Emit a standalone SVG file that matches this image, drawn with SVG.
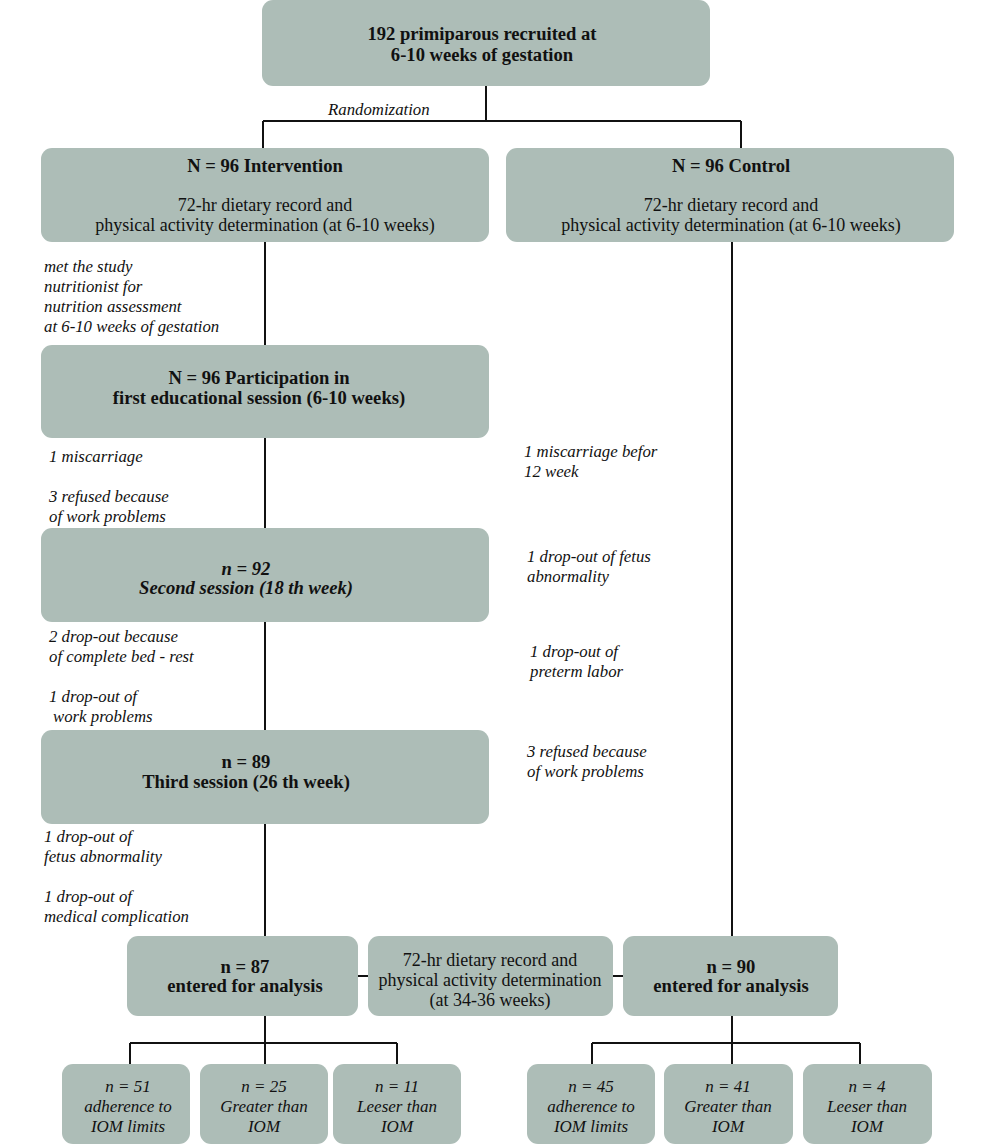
<svg xmlns="http://www.w3.org/2000/svg" width="1000" height="1145" viewBox="0 0 1000 1145">
<style>
.box{fill:#adbdb7;}
.t{font-family:"Liberation Serif",serif;font-size:18px;fill:#111;text-anchor:middle;}
.b{font-weight:bold;font-size:18.6px;}
.i{font-style:italic;}
.n{font-family:"Liberation Serif",serif;font-size:16.8px;font-style:italic;fill:#111;}
.s{font-size:17px;}
.ln{stroke:#111;stroke-width:2;fill:none;}
</style>
<rect width="1000" height="1145" fill="#fff"/>
<g id="connectors">
<path class="ln" d="M486 86V121M263 121H741M263 121V148M741 121V148"/>
<path class="ln" d="M265 242V345M265 438V528M265 622V730M265 824V936M732 242V936"/>
<path class="ln" d="M358 976H368M613 976H623"/>
<path class="ln" d="M265 1016V1043M130 1043H397M130 1043V1064M265 1043V1064M397 1043V1064"/>
<path class="ln" d="M732 1016V1043M592 1043H860M592 1043V1064M732 1043V1064M860 1043V1064"/>
</g>
<g id="top"><rect class="box" x="262" y="0" width="448" height="86" rx="11"/>
<text class="t b" x="482" y="40">192 primiparous recruited at</text>
<text class="t b" x="482" y="61">6-10 weeks of gestation</text></g>
<text class="n" x="328" y="115">Randomization</text>
<g id="intervention"><rect class="box" x="41" y="148" width="448" height="94" rx="11"/>
<text class="t b" x="265" y="172">N = 96 Intervention</text>
<text class="t" x="265" y="211">72-hr dietary record and</text>
<text class="t" x="265" y="231">physical activity determination (at 6-10 weeks)</text></g>
<g id="control"><rect class="box" x="506" y="148" width="448" height="94" rx="11"/>
<text class="t b" x="731" y="172">N = 96 Control</text>
<text class="t" x="731" y="211">72-hr dietary record and</text>
<text class="t" x="731" y="231">physical activity determination (at 6-10 weeks)</text></g>
<g id="notes-left">
<text class="n" x="44" y="272">met the study</text>
<text class="n" x="44" y="292">nutritionist for</text>
<text class="n" x="44" y="312">nutrition assessment</text>
<text class="n" x="44" y="332">at 6-10 weeks of gestation</text>
<text class="n" x="49" y="462">1 miscarriage</text>
<text class="n" x="49" y="502">3 refused because</text>
<text class="n" x="49" y="522">of work problems</text>
<text class="n" x="49" y="642">2 drop-out because</text>
<text class="n" x="49" y="662">of complete bed - rest</text>
<text class="n" x="49" y="702">1 drop-out of</text>
<text class="n" x="53" y="722">work problems</text>
<text class="n" x="44" y="842">1 drop-out of</text>
<text class="n" x="44" y="862">fetus abnormality</text>
<text class="n" x="44" y="902">1 drop-out of</text>
<text class="n" x="44" y="922">medical complication</text>
</g>
<g id="notes-right">
<text class="n" x="524" y="457">1 miscarriage befor</text>
<text class="n" x="524" y="477">12 week</text>
<text class="n" x="527" y="562">1 drop-out of fetus</text>
<text class="n" x="527" y="582">abnormality</text>
<text class="n" x="530" y="657">1 drop-out of</text>
<text class="n" x="530" y="677">preterm labor</text>
<text class="n" x="527" y="757">3 refused because</text>
<text class="n" x="527" y="777">of work problems</text>
</g>
<g id="session1"><rect class="box" x="41" y="345" width="448" height="93" rx="11"/>
<text class="t b" x="259" y="384">N = 96 Participation in</text>
<text class="t b" x="259" y="404">first educational session (6-10 weeks)</text></g>
<g id="session2"><rect class="box" x="41" y="528" width="448" height="94" rx="11"/>
<text class="t b i" x="246" y="575">n = 92</text>
<text class="t b i" x="246" y="594">Second session (18 th week)</text></g>
<g id="session3"><rect class="box" x="41" y="730" width="448" height="94" rx="11"/>
<text class="t b" x="246" y="768">n = 89</text>
<text class="t b" x="246" y="788">Third session (26 th week)</text></g>
<g id="analysis-int"><rect class="box" x="127" y="936" width="231" height="80" rx="11"/>
<text class="t b" x="245" y="973">n = 87</text>
<text class="t b" x="245" y="992">entered for analysis</text></g>
<g id="followup"><rect class="box" x="368" y="936" width="245" height="80" rx="11"/>
<text class="t" x="490" y="966">72-hr dietary record and</text>
<text class="t" x="490" y="986">physical activity determination</text>
<text class="t" x="490" y="1006">(at 34-36 weeks)</text></g>
<g id="analysis-ctl"><rect class="box" x="623" y="936" width="215" height="80" rx="11"/>
<text class="t b" x="731" y="973">n = 90</text>
<text class="t b" x="731" y="992">entered for analysis</text></g>
<g id="i-adh"><rect class="box" x="62" y="1064" width="128" height="80" rx="11"/>
<text class="t i s" x="128" y="1092">n = 51</text><text class="t i s" x="128" y="1112">adherence to</text><text class="t i s" x="128" y="1132">IOM limits</text></g>
<g id="i-gt"><rect class="box" x="200" y="1064" width="128" height="80" rx="11"/>
<text class="t i s" x="264" y="1092">n = 25</text><text class="t i s" x="264" y="1112">Greater than</text><text class="t i s" x="264" y="1132">IOM</text></g>
<g id="i-lt"><rect class="box" x="333" y="1064" width="128" height="80" rx="11"/>
<text class="t i s" x="397" y="1092">n =  11</text><text class="t i s" x="397" y="1112">Leeser than</text><text class="t i s" x="397" y="1132">IOM</text></g>
<g id="c-adh"><rect class="box" x="527" y="1064" width="128" height="80" rx="11"/>
<text class="t i s" x="591" y="1092">n =  45</text><text class="t i s" x="591" y="1112">adherence to</text><text class="t i s" x="591" y="1132">IOM limits</text></g>
<g id="c-gt"><rect class="box" x="664" y="1064" width="129" height="80" rx="11"/>
<text class="t i s" x="728" y="1092">n =  41</text><text class="t i s" x="728" y="1112">Greater than</text><text class="t i s" x="728" y="1132">IOM</text></g>
<g id="c-lt"><rect class="box" x="803" y="1064" width="129" height="80" rx="11"/>
<text class="t i s" x="867" y="1092">n =  4</text><text class="t i s" x="867" y="1112">Leeser than</text><text class="t i s" x="867" y="1132">IOM</text></g>
</svg>
